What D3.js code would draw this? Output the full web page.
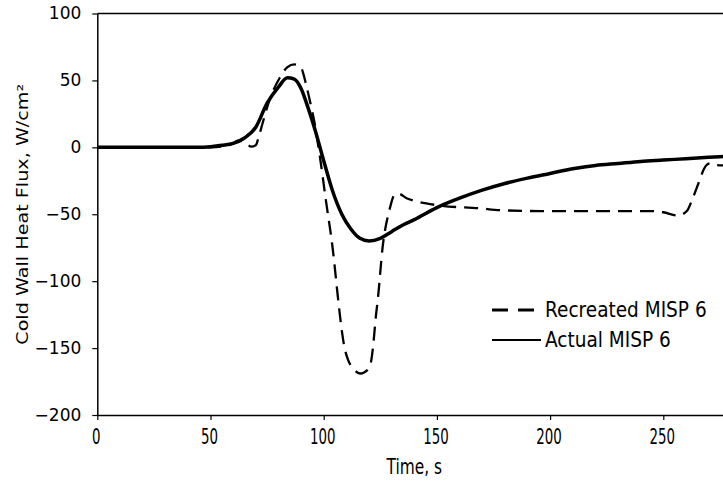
<html>
<head>
<meta charset="utf-8">
<script src="https://cdn.jsdelivr.net/npm/d3@7"></script>
<style>
body { margin: 0; background: #fff; }
</style>
</head>
<body>
<div id="chart"></div>
<script>
// values
const actualTime = [0, 10, 20, 30, 40, 45, 50, 55, 60, 65, 70, 75, 80, 84, 87, 90, 93, 96, 100, 104, 108, 112, 116, 120, 125, 130, 135, 140, 150, 160, 170, 180, 190, 200, 210, 220, 230, 240, 250, 260, 270, 280];
const actualFlux = [0, 0, 0, 0, 0, 0, 0.5, 1.5, 3, 7, 15, 33, 45, 52, 51, 44, 30, 14, -10, -33, -50, -61, -68, -70, -68, -63, -58, -54, -45, -38, -32, -27, -23, -19.5, -16, -13.5, -12, -10.5, -9.5, -8.5, -7.5, -6.5];

const recTime = [0, 20, 40, 50, 55, 60, 62, 65, 68, 70, 71, 73, 76, 80.6, 84, 87, 89.8, 92.5, 94, 96, 98.4, 101, 104, 106.4, 108, 109, 110.8, 113, 116, 118, 120.5, 121.8, 123, 124, 126, 129, 131.5, 133, 136.6, 140, 151, 169, 178, 195.6, 210, 244, 250, 256.5, 260.4, 263, 266, 268, 270.6, 273, 276, 280];
const recFlux = [0, 0, 0, 0, 0.5, 3, 5, 4, 0.5, 1.5, 6, 18, 35, 52, 60, 62, 60, 45, 34, 18, -8, -40, -76, -114, -137, -148, -159, -165, -169, -168, -163, -149, -127, -112, -75, -47, -35, -34.6, -38, -40, -43.4, -45.6, -47, -47.6, -47.6, -47.6, -48.5, -51, -47.6, -38, -24.7, -16, -12, -13.2, -13.5, -13.5];

const xTicks = [0, 50, 100, 150, 200, 250];
const yTicks = [-200, -150, -100, -50, 0, 50, 100];
const legendNames = ["Recreated MISP 6", "Actual MISP 6"];

const w = 723;
const h = 490;
const padLeft = 97.3;
const padTop = 13.5;
const padBottom = 415;

const svg = d3.select("#chart")
  .append("svg")
  .attr("width", w)
  .attr("height", h);

const x = d3.scaleLinear().domain([0, 280]).range([padLeft, padLeft + 280 * 2.264]);
const y = d3.scaleLinear().domain([-200, 100]).range([padBottom, padTop]);

// plot frame (top border + axes)
svg.append("line")
  .attr("x1", padLeft).attr("x2", x(280))
  .attr("y1", padTop).attr("y2", padTop)
  .attr("stroke", "#000").attr("stroke-width", 1.5);

const yAxis = d3.axisLeft(y).tickValues(yTicks).tickSize(5).tickSizeOuter(0).tickPadding(11);
const gy = svg.append("g")
  .attr("transform", `translate(${padLeft},0)`)
  .call(yAxis);
gy.select(".domain").attr("stroke-width", 1.5);
gy.selectAll(".tick line").attr("stroke-width", 1.2);
gy.selectAll(".tick text")
  .attr("font-family", "DejaVu Sans")
  .attr("font-size", 17)
  .attr("fill", "#000");

const xAxis = d3.axisBottom(x).tickValues(xTicks).tickSize(5).tickSizeOuter(0).tickFormat("");
const gx = svg.append("g")
  .attr("transform", `translate(0,${padBottom})`)
  .call(xAxis);
gx.select(".domain").attr("stroke-width", 1.5);
gx.selectAll(".tick line").attr("stroke-width", 1.2);

// x tick labels look taller and narrower in the picture
svg.selectAll(".xlab")
  .data(xTicks)
  .enter()
  .append("g")
  .attr("transform", d => `translate(${x(d) - 1},${padBottom + 29}) scale(0.85,1.2)`)
  .append("text")
  .attr("text-anchor", "middle")
  .attr("font-family", "DejaVu Sans Condensed")
  .attr("font-size", 17.5)
  .text(d => d);

svg.append("g")
  .attr("transform", `translate(${(padLeft + x(280)) / 2},${padBottom + 59}) scale(0.9,1.15)`)
  .append("text")
  .attr("text-anchor", "middle")
  .attr("font-family", "DejaVu Sans Condensed")
  .attr("font-size", 19)
  .text("Time, s");

svg.append("text")
  .attr("transform", `translate(28,${(padTop + padBottom) / 2}) rotate(-90) scale(1.2,1)`)
  .attr("text-anchor", "middle")
  .attr("font-family", "DejaVu Sans")
  .attr("font-size", 16)
  .text("Cold Wall Heat Flux, W/cm²");

// curves
const line = d3.line()
  .x(d => x(d[0]))
  .y(d => y(d[1]))
  .curve(d3.curveMonotoneX);

const recData = recTime.map((t, i) => [t, recFlux[i]]);
const actData = actualTime.map((t, i) => [t, actualFlux[i]]);

svg.append("path")
  .datum(recData)
  .attr("d", line)
  .attr("fill", "none")
  .attr("stroke", "#000")
  .attr("stroke-width", 2.3)
  .attr("stroke-dasharray", "14,8");

svg.append("path")
  .datum(actData)
  .attr("d", line)
  .attr("fill", "none")
  .attr("stroke", "#000")
  .attr("stroke-width", 3.5)
  .attr("stroke-linejoin", "round");

// legend
const legend = svg.append("g").attr("transform", "translate(492,310)");
legend.append("line")
  .attr("x1", 0).attr("x2", 42).attr("y1", 0).attr("y2", 0)
  .attr("stroke", "#000").attr("stroke-width", 3)
  .attr("stroke-dasharray", "16,10");
legend.append("line")
  .attr("x1", 0).attr("x2", 49).attr("y1", 30).attr("y2", 30)
  .attr("stroke", "#000").attr("stroke-width", 2.2);
legend.selectAll("g.item")
  .data(legendNames)
  .enter()
  .append("g")
  .attr("transform", (d, i) => `translate(53,${i * 30 + 7}) scale(1,1.1)`)
  .append("text")
  .attr("font-family", "DejaVu Sans")
  .attr("font-size", 18.5)
  .text(d => d);
</script>
</body>
</html>
